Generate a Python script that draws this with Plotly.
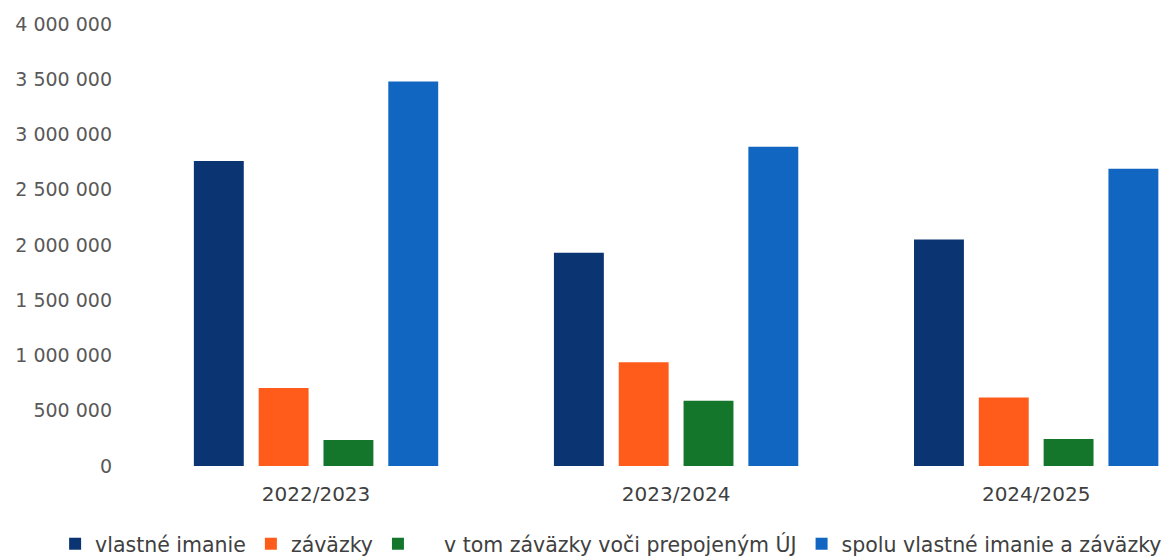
import plotly.graph_objects as go

categories = ["2022/2023", "2023/2024", "2024/2025"]
vlastne_imanie = [2760000, 1930000, 2050000]
zavazky = [706000, 940000, 620000]
zavazky_prepojene = [235000, 590000, 245000]
spolu = [3480000, 2890000, 2690000]

series = [
    ("vlastné imanie", vlastne_imanie, "#0b3473"),
    ("záväzky", zavazky, "#ff5b1a"),
    ("\u00a0" * 4 + "v tom záväzky voči prepojeným ÚJ", zavazky_prepojene, "#13762a"),
    ("spolu vlastné imanie a záväzky", spolu, "#1066c0"),
]

fig = go.Figure()
for name, vals, color in series:
    fig.add_trace(go.Bar(x=categories, y=vals, name=name, marker_color=color,
                         marker_line_width=0))

font_family = "'DejaVu Sans', sans-serif"
fig.update_layout(
    width=1173, height=557,
    margin=dict(l=136, r=0, t=24, b=91, autoexpand=False),
    paper_bgcolor="white", plot_bgcolor="white",
    barmode="group", bargap=0.28, bargroupgap=0.23,
    font=dict(family=font_family, size=19, color="#595959"),
    showlegend=True,
    legend=dict(orientation="h", xref="paper", yref="paper",
                x=-0.078, y=-0.131, xanchor="left", yanchor="top",
                bgcolor="rgba(0,0,0,0)",
                font=dict(size=20.5, color="#404040"),
                itemwidth=30, traceorder="normal"),
    xaxis=dict(type="category", range=[-0.5, 2.38], showgrid=False,
               showline=False, zeroline=False, ticks="",
               ticklabelstandoff=14,
               tickfont=dict(size=20, color="#404040")),
    yaxis=dict(range=[0, 4000000], tickvals=[0, 500000, 1000000, 1500000, 2000000,
                                             2500000, 3000000, 3500000, 4000000],
               ticktext=["0", "500 000", "1 000 000", "1 500 000", "2 000 000",
                         "2 500 000", "3 000 000", "3 500 000", "4 000 000"],
               showgrid=False, zeroline=False, showline=False,
               ticklabelstandoff=23,
               tickfont=dict(size=19, color="#595959")),
)

fig.write_html("out.html")
